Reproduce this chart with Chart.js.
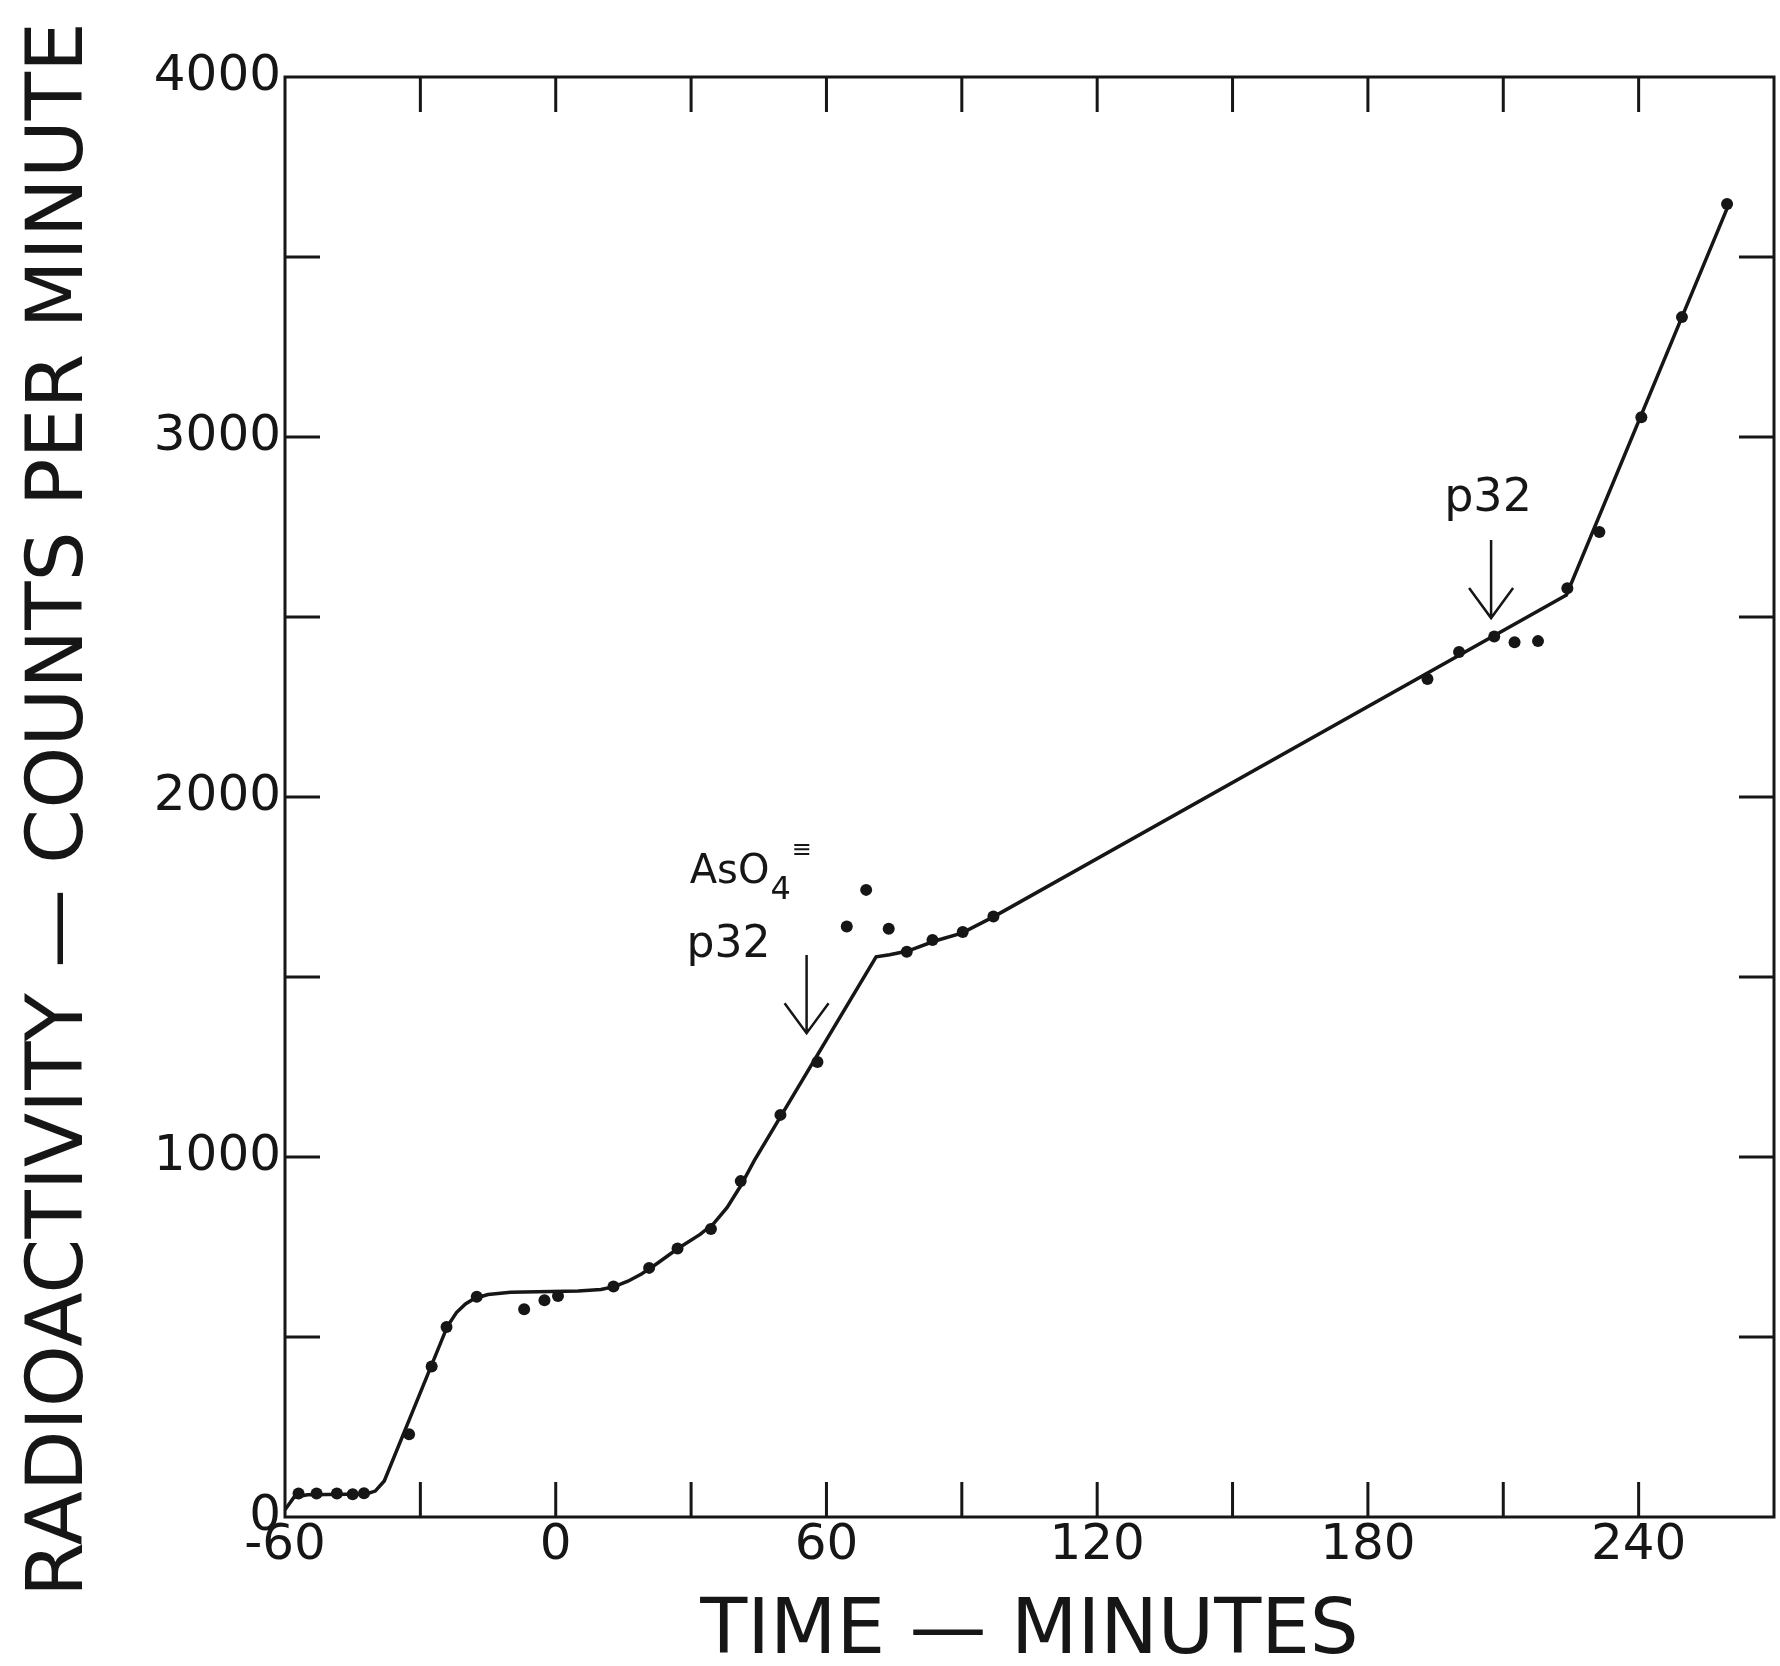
<!DOCTYPE html>
<html>
<head>
<meta charset="utf-8">
<script src="https://cdn.jsdelivr.net/npm/chart.js@4.4.1/dist/chart.umd.min.js"></script>
<style>
  body { margin: 0; background: #fff; }
  #wrap { width: 1780px; height: 1666px; }
</style>
</head>
<body>
<div id="wrap"><canvas id="grafico" width="1780" height="1666"></canvas></div>
<script>
// pontos medidos: tempo (min) e contagens por minuto
const tempos = [-57, -53, -48.5, -45, -42.5,
  -32.5, -27.5, -24.2, -17.5,
  -7, -2.5, 0.5,
  12.8, 20.7, 27, 34.4, 41, 49.8, 58,
  64.5, 68.8, 73.8,
  77.8, 83.5, 90.2, 97,
  193.2, 200.2, 208, 212.5, 217.7, 224.2, 231.3, 240.6, 249.6, 259.6];
const contagens = [65, 65, 65, 63, 66,
  230, 418, 528, 612,
  577, 602, 614,
  640, 692, 746, 800, 933, 1117, 1264,
  1640, 1742, 1634,
  1570, 1603, 1625, 1668,
  2328, 2403, 2446, 2430, 2433, 2580, 2736, 3055, 3333, 3647];

// curva tracada a mao
const curvaTempo = [-60, -58, -55, -42, -40, -38, -24, -22, -20, -18, -15, -10, -4, 5, 10, 13, 16, 19, 22, 27, 32, 35, 38, 41, 44, 71, 74, 78, 84, 90, 97, 224, 260];
const curvaContagem = [20, 55, 62, 64, 72, 100, 530, 568, 592, 607, 618, 624, 626, 628, 632, 640, 655, 675, 700, 745, 785, 815, 860, 920, 990, 1556, 1562, 1572, 1600, 1622, 1667, 2561, 3647];

const xLabels = [-60, 0, 60, 120, 180, 240];
const yLabels = [0, 1000, 2000, 3000, 4000];

// setas (posicoes em unidades do grafico)
const setas = [
  { t: 55.6, de: 1561, ate: 1344 },
  { t: 207.3, de: 2714, ate: 2497 },
];

const cor = "#161616";
const fonte = "DejaVu Sans";

const moldura = {
  id: "moldura",
  afterDatasetsDraw(chart) {
    const { ctx, chartArea: a, scales: { x, y } } = chart;
    const len = 35;
    ctx.save();
    ctx.strokeStyle = cor;
    ctx.lineWidth = 3;
    ctx.strokeRect(a.left, a.top, a.right - a.left, a.bottom - a.top);
    ctx.beginPath();
    x.ticks.forEach((t) => {
      if (t.value <= x.min || t.value >= x.max) return;
      const px = x.getPixelForValue(t.value);
      ctx.moveTo(px, a.bottom);
      ctx.lineTo(px, a.bottom - len);
      ctx.moveTo(px, a.top);
      ctx.lineTo(px, a.top + len);
    });
    y.ticks.forEach((t) => {
      if (t.value <= y.min || t.value >= y.max) return;
      const py = y.getPixelForValue(t.value);
      ctx.moveTo(a.left, py);
      ctx.lineTo(a.left + len, py);
      ctx.moveTo(a.right, py);
      ctx.lineTo(a.right - len, py);
    });
    ctx.stroke();

    // setas
    ctx.lineWidth = 2.5;
    setas.forEach((s) => {
      const px = x.getPixelForValue(s.t);
      const y1 = y.getPixelForValue(s.de);
      const y2 = y.getPixelForValue(s.ate);
      ctx.beginPath();
      ctx.moveTo(px, y1);
      ctx.lineTo(px, y2);
      ctx.moveTo(px - 22, y2 - 30);
      ctx.lineTo(px, y2);
      ctx.lineTo(px + 22, y2 - 30);
      ctx.stroke();
    });

    // textos
    ctx.fillStyle = cor;
    ctx.textBaseline = "alphabetic";
    ctx.textAlign = "left";
    let px = x.getPixelForValue(29.7);
    let py = y.getPixelForValue(1761);
    ctx.font = `40px "${fonte}"`;
    ctx.fillText("AsO", px, py);
    const w = ctx.measureText("AsO").width;
    ctx.font = `32px "${fonte}"`;
    ctx.fillText("4", px + w + 1, py + 16);
    ctx.font = `24px "${fonte}"`;
    ctx.fillText("≡", px + w + 22, py - 26);

    ctx.font = `44px "${fonte}"`;
    ctx.fillText("p32", x.getPixelForValue(29.0), y.getPixelForValue(1555));
    ctx.font = `46px "${fonte}"`;
    ctx.fillText("p32", x.getPixelForValue(196.9), y.getPixelForValue(2795));
    ctx.restore();
  },
};

const grafico = document.querySelector("#grafico");

new Chart(grafico, {
  type: "scatter",
  data: {
    datasets: [
      {
        data: tempos.map((t, i) => ({ x: t, y: contagens[i] })),
        backgroundColor: cor,
        borderColor: cor,
        pointRadius: 6,
        pointBorderWidth: 0,
        showLine: false,
        order: 0,
      },
      {
        data: curvaTempo.map((t, i) => ({ x: t, y: curvaContagem[i] })),
        borderColor: cor,
        borderWidth: 3.5,
        pointRadius: 0,
        showLine: true,
        tension: 0,
        order: 1,
      },
    ],
  },
  options: {
    responsive: false,
    animation: false,
    layout: { padding: { top: 77, right: 3, left: 0, bottom: 0 } },
    plugins: { legend: { display: false }, tooltip: { enabled: false } },
    scales: {
      x: {
        type: "linear",
        min: -60,
        max: 270,
        grid: { display: false, drawTicks: false },
        border: { display: false },
        ticks: {
          stepSize: 30,
          autoSkip: false,
          maxRotation: 0,
          padding: 4,
          color: cor,
          font: { family: fonte, size: 50, lineHeight: 1 },
          callback: (v) => (xLabels.includes(v) ? String(v) : ""),
        },
        title: {
          display: true,
          text: "TIME — MINUTES",
          color: cor,
          font: { family: fonte, size: 77, lineHeight: 0.85 },
          padding: { top: 0, bottom: 0 },
        },
        afterFit: (scale) => {
          scale.height = 149;
        },
      },
      y: {
        min: 0,
        max: 4000,
        grid: { display: false, drawTicks: false },
        border: { display: false },
        ticks: {
          stepSize: 500,
          autoSkip: false,
          padding: 4,
          color: cor,
          font: { family: fonte, size: 50, lineHeight: 1 },
          callback: (v) => (yLabels.includes(v) ? String(v) : ""),
        },
        title: {
          display: true,
          text: "RADIOACTIVITY — COUNTS PER MINUTE\u00a0",
          color: cor,
          font: { family: fonte, size: 79, lineHeight: 1 },
          padding: { top: 22, bottom: 0 },
        },
        afterFit: (scale) => {
          scale.width = 285;
        },
      },
    },
  },
  plugins: [moldura],
});
</script>
</body>
</html>
